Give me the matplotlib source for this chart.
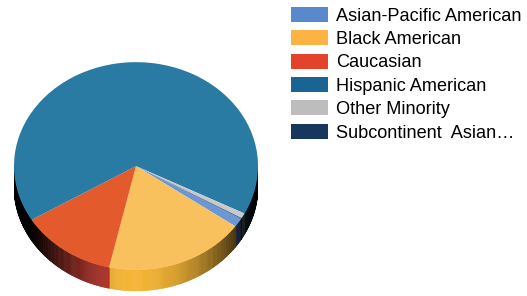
import numpy as np
import matplotlib.pyplot as plt
from matplotlib.patches import Patch
from matplotlib.collections import PolyCollection

plt.rcParams['font.family'] = ['Liberation Sans', 'DejaVu Sans']

# data (percent of total)
groups = ['Asian-Pacific American', 'Black American', 'Caucasian',
          'Hispanic American', 'Other Minority', 'Subcontinent  Asian\u2026']
shares = [1.4, 18.7, 12.8, 66.2, 0.8, 0.1]

# colours: top surface / legend swatch / side wall
top_colors = ['#6A98D6', '#F9C05E', '#E35B2C', '#2A7BA3', '#C9C9C9', '#17375F']
legend_colors = ['#5A88CC', '#FBB444', '#E2432A', '#1A6494', '#BDBDBD', '#17375F']
side_colors = ['#5A88CC', '#F5B433', '#B8352A', '#1A6494', '#A0A0A0', '#17375F']

fig = plt.figure(figsize=(5.27, 2.96), dpi=100)
ax = fig.add_axes([14 / 527, 0.014, 244 / 527, 0.776])

wedges, _ = ax.pie(shares, colors=top_colors, startangle=-30.4,
                   counterclock=False, wedgeprops=dict(linewidth=0))
for w in wedges:
    w.set_zorder(3)

thick = 0.2


def shade(t):
    # lighting on the side wall, brightest around the front
    t = t % 360
    if t < 268:
        v = np.cos(np.radians((268 - t) * 1.4))
    else:
        v = np.cos(np.radians((t - 268) * 1.0))
    return max(v, 0.03) ** 2


polys, cols = [], []
for w, c in zip(wedges, side_colors):
    rgb = np.array(plt.matplotlib.colors.to_rgb(c))
    steps = np.arange(w.theta1, w.theta2, 0.5)
    steps = np.append(steps, w.theta2)
    for a0, a1 in zip(steps[:-1], steps[1:]):
        mid = ((a0 + a1) / 2) % 360
        if not (180 < mid < 360):
            continue
        r0, r1 = np.radians(a0), np.radians(a1)
        polys.append([(np.cos(r0), np.sin(r0)), (np.cos(r1), np.sin(r1)),
                      (np.cos(r1), np.sin(r1) - thick),
                      (np.cos(r0), np.sin(r0) - thick)])
        cols.append(tuple(rgb * shade(mid)))

pc = PolyCollection(polys, facecolors=cols, edgecolors=cols, linewidths=0.4,
                    zorder=2)
ax.add_collection(pc)

ax.set_aspect('auto')
ax.set_xlim(-1, 1)
ax.set_ylim(-1.21, 1)
ax.axis('off')

handles = [Patch(facecolor=c, edgecolor='none') for c in legend_colors]
fig.legend(handles, groups, loc='upper left',
           bbox_to_anchor=(291 / 527, 1 - 7 / 296), frameon=False,
           fontsize=13.1, handlelength=2.05, handleheight=0.88,
           handletextpad=0.42, labelspacing=0.31, borderpad=0,
           borderaxespad=0)

fig.savefig('out.png', dpi=100)
